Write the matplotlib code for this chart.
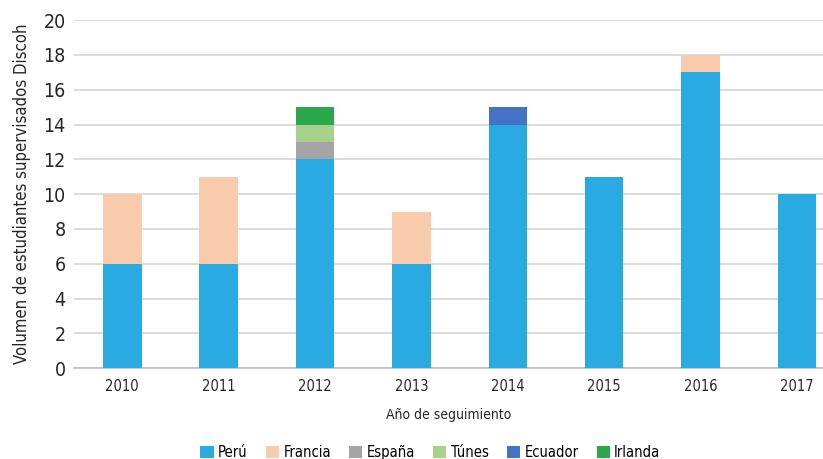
import matplotlib.pyplot as plt
import numpy as np

years = ['2010', '2011', '2012', '2013', '2014', '2015', '2016', '2017']
peru = [6, 6, 12, 6, 14, 11, 17, 10]
francia = [4, 5, 0, 3, 0, 0, 1, 0]
espana = [0, 0, 1, 0, 0, 0, 0, 0]
tunes = [0, 0, 1, 0, 0, 0, 0, 0]
ecuador = [0, 0, 0, 0, 1, 0, 0, 0]
irlanda = [0, 0, 1, 0, 0, 0, 0, 0]

series = [
    ('Perú', peru, '#29ABE2'),
    ('Francia', francia, '#F8CBAD'),
    ('España', espana, '#A5A5A5'),
    ('Túnes', tunes, '#A9D18E'),
    ('Ecuador', ecuador, '#4472C4'),
    ('Irlanda', irlanda, '#2BA84A'),
]

plt.rcParams['font.family'] = ['DejaVu Sans']
plt.rcParams['font.stretch'] = 'condensed'

fig = plt.figure(figsize=(8.23, 4.59), dpi=100)
ax = fig.add_axes([0.09, 0.198, 0.91, 0.758])

x = np.arange(len(years))
bottom = np.zeros(len(years))
for name, vals, col in series:
    ax.bar(x, vals, 0.4, bottom=bottom, color=col, label=name, zorder=3)
    bottom += np.array(vals)

ax.set_ylim(0, 20)
ax.set_yticks(range(0, 21, 2))
ax.set_xlim(-0.5, 7.27)
ax.set_xticks(x)
ax.set_xticklabels(years)
ax.yaxis.grid(True, color='#D9D9D9', linewidth=1.3, zorder=0)
for s in ['left', 'right', 'top']:
    ax.spines[s].set_visible(False)
ax.spines['bottom'].set_color('#BFBFBF')
ax.spines['bottom'].set_linewidth(1.2)
ax.tick_params(axis='y', length=0, labelsize=14, colors='#262626', pad=6)
ax.tick_params(axis='x', length=0, labelsize=10.5, colors='#262626', pad=8)

ax.set_xlabel('Año de seguimiento', fontsize=10, color='#262626', labelpad=10)
ax.set_ylabel('Volumen de estudiantes supervisados Discoh', fontsize=12,
              color='#262626', labelpad=9)

fig.legend(loc='lower center', bbox_to_anchor=(0.523, -0.03), ncol=6,
           frameon=False, fontsize=10.5, handlelength=0.9, handleheight=0.9,
           columnspacing=1.25, handletextpad=0.3)

fig.savefig('out.png', dpi=100)
